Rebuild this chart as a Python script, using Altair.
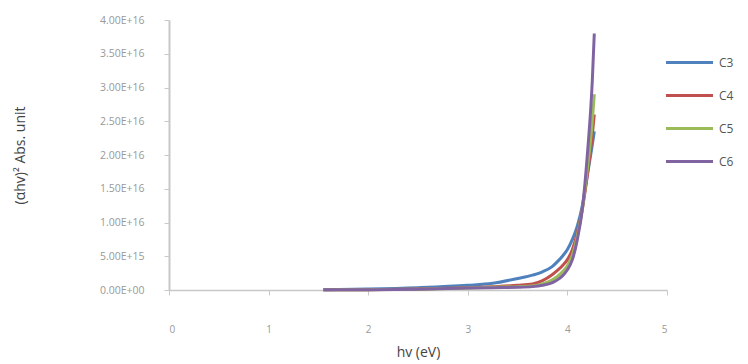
import altair as alt
import pandas as pd

energy = [1.55, 2.0, 2.5, 3.0, 3.25, 3.5, 3.65, 3.75, 3.85, 3.9, 3.95, 4.0, 4.05, 4.1, 4.15, 4.2, 4.25, 4.27]
series_names = ["C3", "C4", "C5", "C6"]
c3 = [0.05, 0.15, 0.35, 0.7, 1.0, 1.7, 2.2, 2.7, 3.5, 4.2, 5.0, 6.0, 7.5, 9.5, 12.5, 17.0, 21.5, 23.5]
c4 = [0.02, 0.05, 0.15, 0.35, 0.5, 0.7, 0.9, 1.4, 2.3, 2.9, 3.6, 4.5, 6.0, 8.5, 12.0, 17.0, 23.0, 26.0]
c5 = [0.02, 0.05, 0.12, 0.3, 0.4, 0.5, 0.6, 0.9, 1.5, 2.0, 2.7, 3.6, 5.2, 8.0, 12.0, 18.0, 25.0, 29.0]
c6 = [0.02, 0.05, 0.12, 0.28, 0.35, 0.4, 0.5, 0.7, 1.1, 1.5, 2.1, 3.0, 4.5, 7.5, 12.0, 20.0, 31.0, 38.0]
colors = ["#4F81BD", "#C0504D", "#9BBB59", "#8064A2"]
y_ticks = [0, 5e15, 1e16, 1.5e16, 2e16, 2.5e16, 3e16, 3.5e16, 4e16]
x_ticks = [0, 1, 2, 3, 4, 5]

rows = []
for name, vals in zip(series_names, [c3, c4, c5, c6]):
    for i, (e, v) in enumerate(zip(energy, vals)):
        rows.append({"energy": e, "value": v * 1e15, "series": name, "order": i})
df = pd.DataFrame(rows)

font = "Open Sans"

chart = alt.Chart(df).mark_line(strokeWidth=3, interpolate="monotone").encode(
    x=alt.X("energy:Q", title="hv (eV)",
            scale=alt.Scale(domain=[0, 5], nice=False),
            axis=alt.Axis(values=x_ticks, grid=False, domainColor="#c8c8c8", domainWidth=1.5,
                          tickColor="#c8c8c8", tickSize=5, labelColor="#999999", labelFontSize=10,
                          labelPadding=29, titleFontSize=14, titleColor="#444444",
                          titleFontWeight="normal", titlePadding=11, labelFont=font, titleFont=font)),
    y=alt.Y("value:Q", title="(αhv)² Abs. unit",
            scale=alt.Scale(domain=[0, 4e16], nice=False),
            axis=alt.Axis(values=y_ticks, grid=False, domainColor="#c8c8c8", domainWidth=2,
                          tickColor="#c8c8c8", tickSize=5,
                          labelExpr="datum.value == 0 ? '0.00E+00' : upper(format(datum.value, '.2e'))",
                          labelColor="#999999", labelFontSize=10.5, labelPadding=20,
                          titleFontSize=14, titleColor="#444444", titleFontWeight="normal",
                          titlePadding=72, labelFont=font, titleFont=font)),
    color=alt.Color("series:N", scale=alt.Scale(domain=series_names, range=colors),
                    legend=alt.Legend(title=None, orient="none", legendX=507, legendY=29,
                                      symbolType="M-2,0H2", symbolSize=552, symbolStrokeWidth=3,
                                      labelOffset=16, labelFontSize=12, labelColor="#555555",
                                      labelFont=font, rowPadding=13)),
    order="order:Q",
).properties(width=498, height=270, background="white", padding={"left": 13, "top": 15, "right": 0, "bottom": 5}).configure_view(stroke=None)

chart.save("out.html", embed_options={"renderer": "svg", "actions": False})
